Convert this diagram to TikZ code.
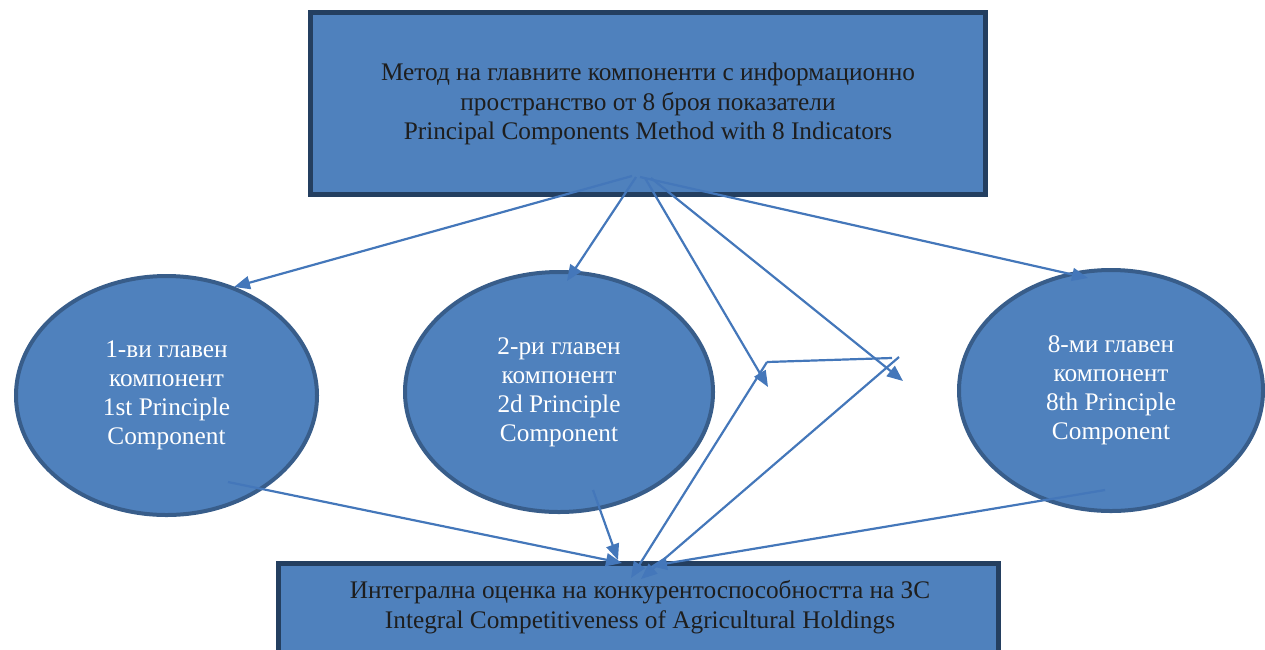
\documentclass[tikz,border=0pt]{standalone}
\usepackage{fontspec}
\setmainfont{Liberation Serif}
\usetikzlibrary{shapes.geometric,arrows.meta}
\definecolor{fillblue}{HTML}{4F81BD}
\definecolor{ellborder}{HTML}{385D8A}
\definecolor{boxborder}{HTML}{243F60}
\definecolor{arrowblue}{HTML}{4477BA}
\definecolor{darktext}{HTML}{1E1E1E}
\tikzset{
  box/.style={rectangle, draw=boxborder, line width=5pt, fill=fillblue, inner sep=0pt},
  ell/.style={ellipse, draw=ellborder, line width=4pt, fill=fillblue, inner sep=0pt,
    text=white, align=center, font=\fontsize{25.3}{29}\selectfont},
  boxtext/.style={text=darktext, align=center, font=\fontsize{25.3}{29.5}\selectfont, inner sep=0pt},
  conn/.style={draw=arrowblue, line width=2.2pt},
  arr/.style={conn, -{Triangle[length=16pt,width=13pt]}}
}
\begin{document}
\begin{tikzpicture}[x=1pt,y=-1pt]
\useasboundingbox (0,0) rectangle (1265,649);
% boxes
\node[box, minimum width=675pt, minimum height=182pt] (top) at (648,103.5) {};
\node[boxtext] (toptext) at (648,104) {Метод на главните компоненти с информационно\\пространство от 8 броя показатели\\Principal Components Method with 8 Indicators};
\node[box, minimum width=720pt, minimum height=140pt] (bot) at (638.5,633.5) {};
\node[boxtext] (bottext) at (640,607) {Интегрална оценка на конкурентоспособността на ЗС\\Integral Competitiveness of Agricultural Holdings};
% ellipses
\node[ell, minimum width=301pt, minimum height=239pt] (e1) at (166.5,395.5) {1-ви главен\\компонент\\1st Principle\\Component};
\node[ell, minimum width=308pt, minimum height=240pt] (e2) at (559,392) {2-ри главен\\компонент\\2d Principle\\Component};
\node[ell, minimum width=304pt, minimum height=241pt] (e8) at (1111,390.5) {8-ми главен\\компонент\\8th Principle\\Component};
% coordinates
\coordinate (s1) at (632,176);
\coordinate (s2) at (636,177);
\coordinate (s3) at (645,178);
\coordinate (s4) at (651,178);
\coordinate (s5) at (640,177);
\coordinate (t1) at (234,287);
\coordinate (t2) at (567,281);
\coordinate (t3) at (768,387);
\coordinate (t4) at (903,381);
\coordinate (t5) at (1088,278);
\coordinate (m1) at (767,362);
\coordinate (m2) at (892,358);
\coordinate (m3) at (899,357);
\coordinate (b1s) at (228,482);
\coordinate (b2s) at (593,490);
\coordinate (b8s) at (1105,490);
\coordinate (b1) at (622,563);
\coordinate (b2) at (618,560);
\coordinate (bm1) at (631,578);
\coordinate (bm3) at (641,579);
\coordinate (b8) at (651,566);
% arrows
\draw[arr] (s1) -- (t1);
\draw[arr] (s2) -- (t2);
\draw[arr] (s3) -- (t3);
\draw[arr] (s4) -- (t4);
\draw[arr] (s5) -- (t5);
\draw[conn] (m1) -- (m2);
\draw[arr] (m1) -- (bm1);
\draw[arr] (m3) -- (bm3);
\draw[arr] (b1s) -- (b1);
\draw[arr] (b2s) -- (b2);
\draw[arr] (b8s) -- (b8);
\end{tikzpicture}
\end{document}
